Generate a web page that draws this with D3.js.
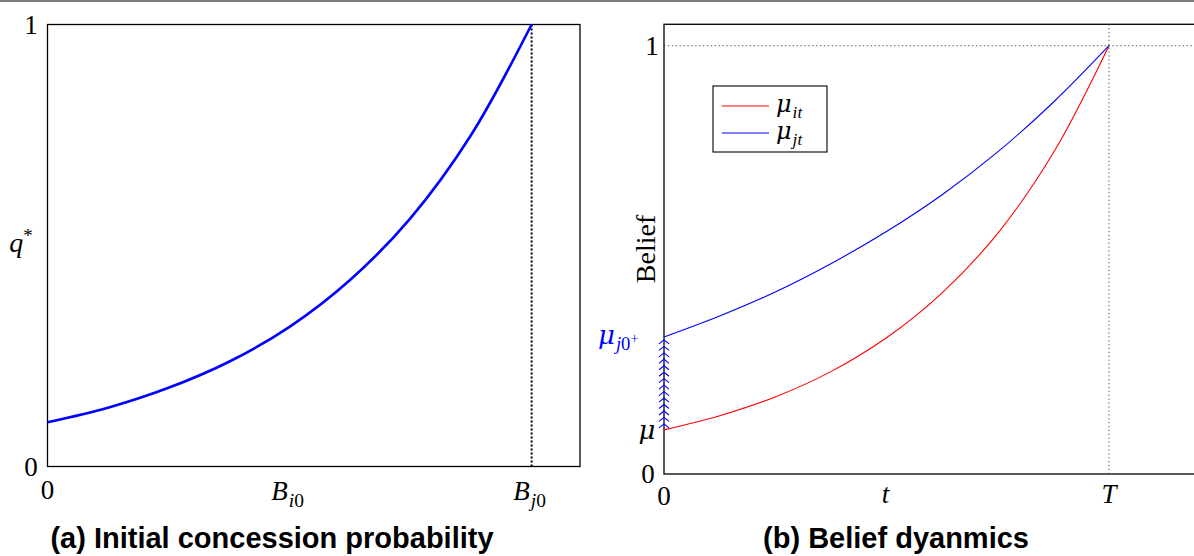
<!DOCTYPE html>
<html>
<head>
<meta charset="utf-8">
<script src="https://cdn.jsdelivr.net/npm/d3@7/dist/d3.min.js"></script>
<style>
  html, body { margin: 0; padding: 0; background: #fff; }
  svg { display: block; }
  .cap { font-family: "Liberation Sans", Arial, sans-serif; font-weight: bold; }
</style>
</head>
<body>
<svg id="chart" width="1194" height="556"></svg>
<script>
// Panel (a): initial concession probability q* against the bargaining position B
const bGrid = [0, 0.125, 0.25, 0.375, 0.5, 0.625, 0.75, 0.875, 1.0];
const qStar = [0.10, 0.133, 0.178, 0.237, 0.316, 0.422, 0.562, 0.750, 1.00];
const bTickValues = [0, 0.5, 1.0];
const bTickLabels = ["0", "B_i0", "B_j0"];
const qTickValues = [0, 1];
const qTickLabels = ["0", "1"];

// Panel (b): belief paths of the two players over time
const tGrid = [0, 0.125, 0.25, 0.375, 0.5, 0.625, 0.75, 0.875, 1.0];
const muI = [0.103, 0.136, 0.180, 0.239, 0.318, 0.423, 0.562, 0.750, 1.00];
const muJ = [0.320, 0.369, 0.425, 0.491, 0.566, 0.652, 0.752, 0.868, 1.00];
const tTickValues = [0, 0.5, 1.0];
const tTickLabels = ["0", "t", "T"];
const legendLabels = ["μ_it", "μ_jt"];

const svg = d3.select("#chart");
const ROMAN = "'Liberation Serif', 'DejaVu Serif', serif";

// thin grey rule at the very top
svg.append("rect").attr("x", 0).attr("y", 0).attr("width", 1194).attr("height", 2).attr("fill", "#7a7a7a");

// math-style label: base glyph plus optional subscript pieces [italic, roman, superscript]
function mathText(g, x, y, base, sub, opts) {
  const size = opts.size || 27;
  const t = g.append("text").attr("x", x).attr("y", y)
    .attr("font-size", size).attr("fill", opts.fill || "#000")
    .attr("text-anchor", opts.anchor || "middle")
    .style("font-family", opts.greek ? "'DejaVu Serif', serif" : ROMAN);
  t.append("tspan").attr("font-style", opts.italic ? "italic" : "normal").text(base);
  if (sub) {
    t.append("tspan").attr("font-style", "italic").attr("font-size", size * 0.72)
      .style("font-family", ROMAN).attr("dx", 1).attr("dy", size * 0.25).text(sub[0]);
    if (sub[1]) t.append("tspan").attr("font-style", "normal").attr("font-size", size * 0.72)
      .style("font-family", ROMAN).text(sub[1]);
    if (sub[2]) t.append("tspan").attr("font-style", "normal").attr("font-size", size * 0.55)
      .style("font-family", ROMAN).attr("dy", -size * 0.3).text(sub[2]);
  }
  return t;
}

// ---------- Panel (a) ----------
const xa = d3.scaleLinear().domain([0, 1.1]).range([47.5, 580]);
const ya = d3.scaleLinear().domain([0, 1]).range([466.5, 24.5]);
const ga = svg.append("g");

ga.append("rect").attr("x", xa(0)).attr("y", ya(1)).attr("width", xa(1.1) - xa(0)).attr("height", ya(0) - ya(1))
  .attr("fill", "none").attr("stroke", "#000").attr("stroke-width", 1.3);

ga.append("line").attr("x1", xa(1)).attr("x2", xa(1)).attr("y1", ya(0)).attr("y2", ya(1))
  .attr("stroke", "#000").attr("stroke-width", 2).attr("stroke-dasharray", "2,2");

ga.append("path")
  .datum(bGrid.map((b, i) => [b, qStar[i]]))
  .attr("d", d3.line().x(d => xa(d[0])).y(d => ya(d[1])).curve(d3.curveCatmullRom))
  .attr("fill", "none").attr("stroke", "#0000ff").attr("stroke-width", 2.6);

// y ticks
qTickValues.forEach((v, i) => {
  mathText(ga, 31, ya(v) + 9, qTickLabels[i], null, { anchor: "middle" });
});
// x ticks
mathText(ga, xa(0), 499, bTickLabels[0], null, {});
mathText(ga, xa(bTickValues[1]) - 2, 500, "B", ["i", "0"], { italic: true });
mathText(ga, xa(bTickValues[2]) - 2, 500, "B", ["j", "0"], { italic: true });

// y axis label q*
const qLab = ga.append("text").attr("x", 21).attr("y", 252).attr("font-size", 28)
  .attr("text-anchor", "middle").style("font-family", ROMAN);
qLab.append("tspan").attr("font-style", "italic").text("q");
qLab.append("tspan").attr("font-size", 19).attr("dy", -10).text("*");

svg.append("text").attr("class", "cap").attr("x", 272).attr("y", 548).attr("font-size", 29)
  .attr("text-anchor", "middle").text("(a) Initial concession probability");

// ---------- Panel (b) ----------
const xb = d3.scaleLinear().domain([0, 1.2]).range([664, 1198]);
const yb = d3.scaleLinear().domain([0, 1]).range([474, 45.7]);
const gb = svg.append("g");

gb.append("rect").attr("x", xb(0)).attr("y", yb(1.05)).attr("width", xb(1.2) - xb(0)).attr("height", yb(0) - yb(1.05))
  .attr("fill", "none").attr("stroke", "#000").attr("stroke-width", 1.3);

// dotted guides at belief 1 and time T
gb.append("line").attr("x1", xb(0)).attr("x2", xb(1.2)).attr("y1", yb(1)).attr("y2", yb(1))
  .attr("stroke", "#555").attr("stroke-width", 1).attr("stroke-dasharray", "1.3,2.6");
gb.append("line").attr("x1", xb(1)).attr("x2", xb(1)).attr("y1", yb(0)).attr("y2", yb(1.05))
  .attr("stroke", "#555").attr("stroke-width", 1).attr("stroke-dasharray", "1.3,2.6");

const lineB = d3.line().x(d => xb(d[0])).y(d => yb(d[1])).curve(d3.curveCatmullRom);
gb.append("path").datum(tGrid.map((t, i) => [t, muI[i]])).attr("d", lineB)
  .attr("fill", "none").attr("stroke", "#ff0000").attr("stroke-width", 1.1);
gb.append("path").datum(tGrid.map((t, i) => [t, muJ[i]])).attr("d", lineB)
  .attr("fill", "none").attr("stroke", "#0000ff").attr("stroke-width", 1.1);

// jump from mu to mu_j0+ drawn as a column of upward chevrons
const chevTop = yb(muJ[0]) + 3;
const chevBottom = yb(muI[0]) - 6;
const nChev = 14;
const chevs = d3.range(nChev).map(k => chevBottom - k * (chevBottom - chevTop) / (nChev - 1));
gb.selectAll("path.chev").data(chevs).enter().append("path").attr("class", "chev")
  .attr("d", y => `M${xb(0) - 5},${y + 4} L${xb(0)},${y} L${xb(0) + 5},${y + 4}`)
  .attr("fill", "none").attr("stroke", "#0000ff").attr("stroke-width", 1.1);

// tick labels
mathText(gb, 652, yb(1) + 9, "1", null, {});
mathText(gb, 648, yb(0) + 9, "0", null, {});
mathText(gb, xb(0), 505, tTickLabels[0], null, {});
mathText(gb, xb(tTickValues[1]) - 1, 503, tTickLabels[1], null, { italic: true });
mathText(gb, xb(tTickValues[2]), 503, tTickLabels[2], null, { italic: true });

// start values on the axis
mathText(gb, 647, yb(muI[0]) + 9, "μ", null, { italic: true, greek: true, size: 26 });
mathText(gb, 598, yb(muJ[0]) + 7, "μ", ["j", "0", "+"], { italic: true, greek: true, size: 26, fill: "#0000ff", anchor: "start" });

// axis title
gb.append("text").attr("font-size", 28).attr("text-anchor", "middle").style("font-family", ROMAN)
  .attr("transform", `translate(655,249) rotate(-90)`).text("Belief");

// legend
const lg = gb.append("g");
lg.append("rect").attr("x", 713).attr("y", 86).attr("width", 114).attr("height", 66)
  .attr("fill", "#fff").attr("stroke", "#000").attr("stroke-width", 1.1);
const legColors = ["#ff0000", "#0000ff"];
legendLabels.forEach((lab, i) => {
  const y = 106 + i * 27;
  lg.append("line").attr("x1", 722).attr("x2", 769).attr("y1", y).attr("y2", y)
    .attr("stroke", legColors[i]).attr("stroke-width", 1.1);
  const parts = lab.split("_");
  mathText(lg, 776, y + 6, parts[0], [parts[1]], { size: 24, italic: true, greek: true, anchor: "start" });
});

svg.append("text").attr("class", "cap").attr("x", 896).attr("y", 548).attr("font-size", 29)
  .attr("text-anchor", "middle").text("(b) Belief dyanmics");
</script>
</body>
</html>
